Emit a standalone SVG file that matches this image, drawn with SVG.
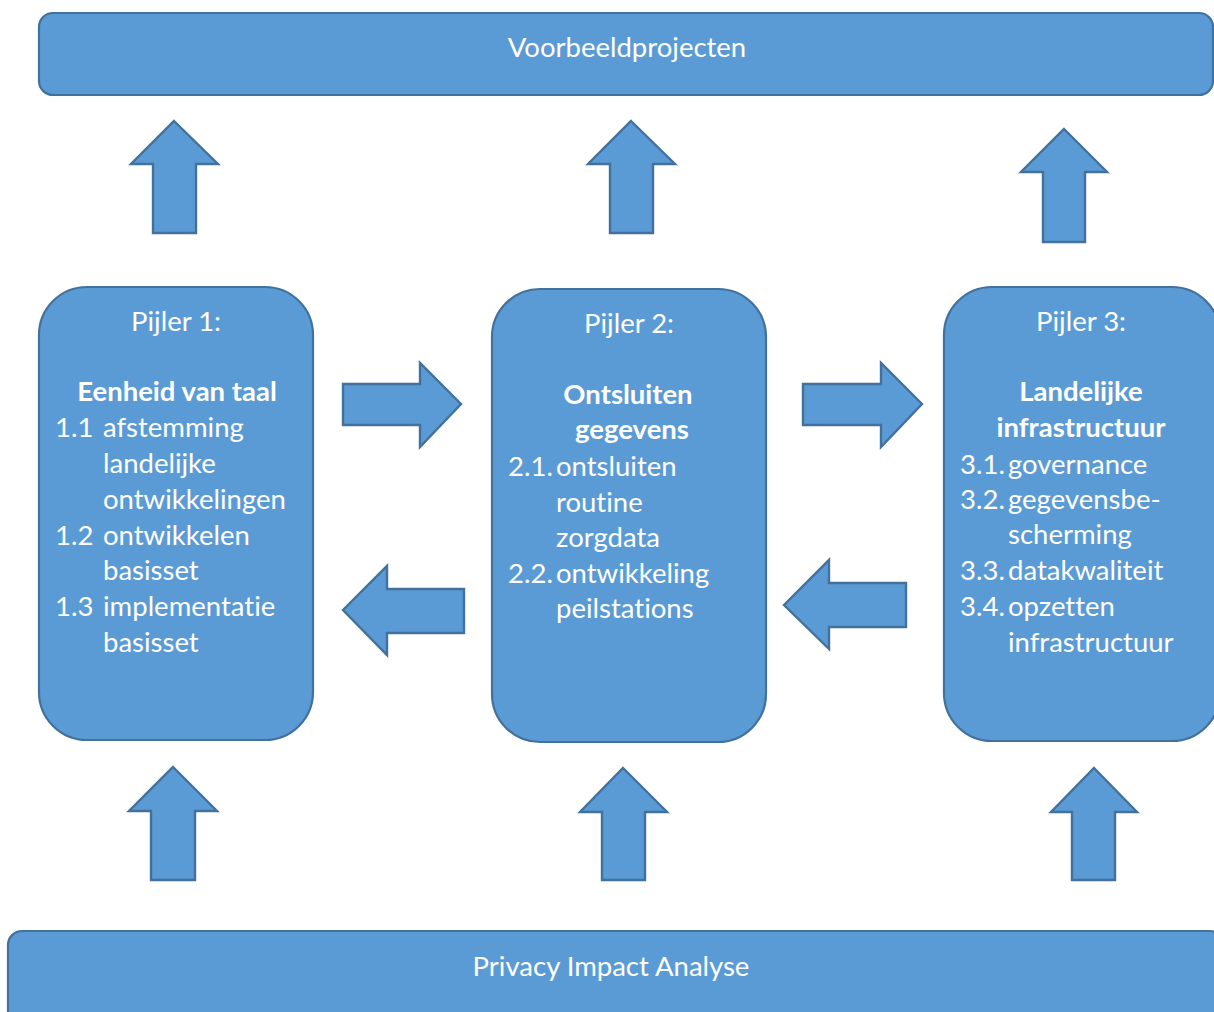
<svg xmlns="http://www.w3.org/2000/svg" width="1214" height="1012" viewBox="0 0 1214 1012">
<style>
.box{fill:#5B9BD5;stroke:#41719C;stroke-width:2.2}
.arr{fill:#5B9BD5;stroke:#41719C;stroke-width:2.4;stroke-linejoin:miter}
text{font-family:Lato,"Liberation Sans",sans-serif;font-size:27.5px;fill:#FFFFFF;font-variant-ligatures:none;font-feature-settings:"liga" 0,"dlig" 0}
.c{text-anchor:middle}
.b{font-weight:bold}
</style>
<rect width="1214" height="1012" fill="#FFFFFF"/>
<g id="voorbeeldprojecten">
<rect class="box" x="39" y="13" width="1174" height="82" rx="14" ry="14"/>
<text class="c" x="627" y="57">Voorbeeldprojecten</text>
</g>
<g id="pijler1">
<rect class="box" x="39" y="287" width="274" height="453" rx="48" ry="48"/>
<text class="c" x="176" y="331">Pijler 1:</text>
<text class="c b" x="177" y="401">Eenheid van taal</text>
<text x="55" y="437">1.1</text><text x="103" y="437">afstemming</text>
<text x="103" y="473">landelijke</text>
<text x="103" y="509">ontwikkelingen</text>
<text x="55" y="545">1.2</text><text x="103" y="545">ontwikkelen</text>
<text x="103" y="580">basisset</text>
<text x="55" y="616">1.3</text><text x="103" y="616">implementatie</text>
<text x="103" y="652">basisset</text>
</g>
<g id="pijler2">
<rect class="box" x="492" y="289" width="274" height="453" rx="48" ry="48"/>
<text class="c" x="629" y="333">Pijler 2:</text>
<text class="c b" x="628" y="404">Ontsluiten</text>
<text class="c b" x="632" y="439">gegevens</text>
<text x="508" y="476">2.1.</text><text x="556" y="476">ontsluiten</text>
<text x="556" y="512">routine</text>
<text x="556" y="547">zorgdata</text>
<text x="508" y="583">2.2.</text><text x="556" y="583">ontwikkeling</text>
<text x="556" y="618">peilstations</text>
</g>
<g id="pijler3">
<rect class="box" x="944" y="287" width="276" height="454" rx="48" ry="48"/>
<text class="c" x="1081" y="331">Pijler 3:</text>
<text class="c b" x="1081" y="401">Landelijke</text>
<text class="c b" x="1081" y="437">infrastructuur</text>
<text x="960" y="474">3.1.</text><text x="1008" y="474">governance</text>
<text x="960" y="509">3.2.</text><text x="1008" y="509">gegevensbe-</text>
<text x="1008" y="544">scherming</text>
<text x="960" y="580">3.3.</text><text x="1008" y="580">datakwaliteit</text>
<text x="960" y="616">3.4.</text><text x="1008" y="616">opzetten</text>
<text x="1008" y="652">infrastructuur</text>
</g>
<g id="privacy-impact-analyse">
<rect class="box" x="8" y="931" width="1216" height="100" rx="14" ry="14"/>
<text class="c" x="611" y="976">Privacy Impact Analyse</text>
</g>
<g id="connectors">
<polygon class="arr" points="174,121 218,164 196,164 196,233 153,233 153,164 131,164"/>
<polygon class="arr" points="631,121 675,164 653,164 653,233 610,233 610,164 588,164"/>
<polygon class="arr" points="1064,129 1107,172 1085,172 1085,242 1043,242 1043,172 1021,172"/>
<polygon class="arr" points="461,404 420,363 420,384 343,384 343,425 420,425 420,447"/>
<polygon class="arr" points="922,404 881,363 881,384 803,384 803,425 881,425 881,447"/>
<polygon class="arr" points="343,610 387,566 387,589 464,589 464,633 387,633 387,655"/>
<polygon class="arr" points="784,605 829,560 829,583 906,583 906,627 829,627 829,649"/>
<polygon class="arr" points="173,767 217,811 195,811 195,880 151,880 151,811 129,811"/>
<polygon class="arr" points="623,768 667,812 645,812 645,880 602,880 602,812 580,812"/>
<polygon class="arr" points="1094,768 1137,812 1115,812 1115,880 1072,880 1072,812 1051,812"/>
</g>
</svg>
